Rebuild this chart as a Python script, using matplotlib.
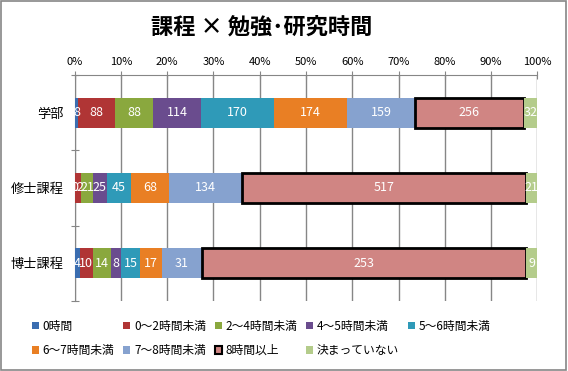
import numpy as np
import matplotlib.pyplot as plt
from matplotlib.patches import Patch, Rectangle

plt.rcParams["font.family"] = ["Noto Sans CJK JP", "DejaVu Sans"]

COURSES = ["学部", "修士課程", "博士課程"]
HOURS = [
    "0時間", "0～2時間未満", "2～4時間未満", "4～5時間未満", "5～6時間未満",
    "6～7時間未満", "7～8時間未満", "8時間以上", "決まっていない",
]
UNDERGRAD = [8, 88, 88, 114, 170, 174, 159, 256, 32]
MASTER = [0, 12, 21, 25, 45, 68, 134, 517, 21]
DOCTOR = [4, 10, 14, 8, 15, 17, 31, 253, 9]
COLORS = [
    "#3a6db0", "#b03535", "#8aa83e", "#6a4c8e", "#2f9ab8",
    "#e97f24", "#86a2cf", "#d08583", "#b4cc8b",
]

counts = np.array([UNDERGRAD, MASTER, DOCTOR], dtype=float)
shares = counts / counts.sum(axis=1, keepdims=True) * 100

fig = plt.figure(figsize=(5.68, 3.71), dpi=100)
fig.patches.append(Rectangle((0.002, 0.003), 0.995, 0.993, transform=fig.transFigure,
                             fill=False, edgecolor="#868686", linewidth=1.2))

ax = fig.add_axes([0.1315, 0.189, 0.8145, 0.609])
y = np.arange(len(COURSES))
left = np.zeros(len(COURSES))
for k, name in enumerate(HOURS):
    edge = "black" if k == 7 else "none"
    lw = 2.0 if k == 7 else 0
    ax.barh(y, shares[:, k], left=left, height=0.4, color=COLORS[k],
            edgecolor=edge, linewidth=lw, label=name, zorder=3)
    for i in range(len(COURSES)):
        ax.text(left[i] + shares[i, k] / 2, y[i], f"{int(counts[i, k])}",
                ha="center", va="center", color="white", fontsize=9, zorder=4)
    left += shares[:, k]

ax.set_xlim(0, 100)
ax.set_ylim(2.5, -0.5)
ax.xaxis.tick_top()
ax.set_xticks(np.arange(0, 101, 10))
ax.set_xticklabels([f"{v}%" for v in range(0, 101, 10)], fontsize=8)
ax.set_yticks([-0.5, 0.5, 1.5, 2.5], minor=False)
ax.set_yticklabels([])
ax.set_yticks(y, minor=True)
ax.set_yticklabels(COURSES, minor=True, fontsize=9.5)
ax.tick_params(axis="y", which="minor", length=0, pad=8)
ax.tick_params(axis="y", which="major", direction="inout", length=6, color="#868686")
ax.tick_params(axis="x", direction="inout", length=6, color="#868686", pad=3)
ax.grid(axis="x", color="#868686", linewidth=1, zorder=0)
for side in ["right", "bottom"]:
    ax.spines[side].set_visible(False)
for side in ["top", "left"]:
    ax.spines[side].set_color("#868686")

fig.text(0.46, 0.927, "課程 × 勉強･研究時間", ha="center", va="center",
         fontsize=16, fontweight="bold")

handles = []
for k, name in enumerate(HOURS):
    handles.append(Patch(facecolor=COLORS[k], edgecolor="black" if k == 7 else "none",
                         linewidth=1.5 if k == 7 else 0, label=name))
order = [0, 5, 1, 6, 2, 7, 3, 8, 4]
fig.legend([handles[i] for i in order], [HOURS[i] for i in order], ncol=5,
           loc="center", bbox_to_anchor=(0.46, 0.088), frameon=False, fontsize=8.5,
           handlelength=0.6, handleheight=0.6, handletextpad=0.3,
           columnspacing=0.75, labelspacing=0.95)

fig.savefig("out.png", dpi=100)
